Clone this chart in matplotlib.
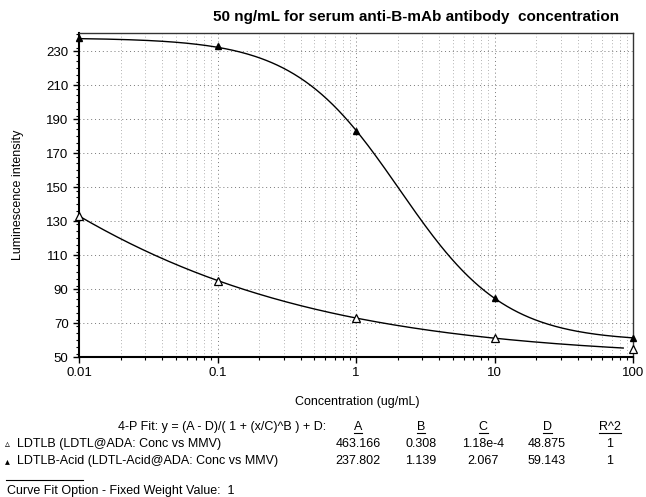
import numpy as np
import matplotlib
matplotlib.use("Agg")
import matplotlib.pyplot as plt
from matplotlib.ticker import FixedLocator, FuncFormatter, MultipleLocator, LogLocator
from matplotlib.lines import Line2D

plt.rcParams['font.family'] = ['Liberation Sans', 'DejaVu Sans']

# measured points (ug/mL vs luminescence)
conc = [0.01, 0.1, 1, 10, 100]
ldtlb = [133, 95, 73, 61, 55]
ldtlb_acid = [237.5, 233, 183, 85, 61]

# 4-P fit parameters: A, B, C, D, R^2
fit_ldtlb = [463.166, 0.308, 1.18e-4, 48.875, 1]
fit_acid = [237.802, 1.139, 2.067, 59.143, 1]
fit_text_ldtlb = ["463.166", "0.308", "1.18e-4", "48.875", "1"]
fit_text_acid = ["237.802", "1.139", "2.067", "59.143", "1"]
fit_range_ldtlb = [0.01, 85]
fit_range_acid = [0.01, 100]

col_names = ["A", "B", "C", "D", "R^2"]
y_ticks = [50, 70, 90, 110, 130, 150, 170, 190, 210, 230]


def four_p(x, p):
    a, b, c, d = p[:4]
    return (a - d) / (1 + (x / c) ** b) + d


W, H = 646, 497
fig = plt.figure(figsize=(W / 100, H / 100), dpi=100)
ax = fig.add_axes([79 / W, 1 - 357 / H, (633 - 79) / W, (357 - 32.5) / H])

ax.set_xscale('log')
ax.set_xlim(0.01, 100)
ax.set_ylim(50, 241)

xs = np.logspace(np.log10(fit_range_ldtlb[0]), np.log10(fit_range_ldtlb[1]), 300)
ax.plot(xs, four_p(xs, fit_ldtlb), color='black', lw=1.0, zorder=3)
xs = np.logspace(np.log10(fit_range_acid[0]), np.log10(fit_range_acid[1]), 300)
ax.plot(xs, four_p(xs, fit_acid), color='black', lw=1.0, zorder=3)

ax.plot(conc, ldtlb, ls='none', marker='^', ms=6, mfc='white', mec='black',
        mew=0.9, clip_on=False, zorder=4)
ax.plot(conc, ldtlb_acid, ls='none', marker='^', ms=4.5, mfc='black', mec='black',
        clip_on=False, zorder=4)

ax.yaxis.set_major_locator(FixedLocator(y_ticks))
ax.yaxis.set_minor_locator(MultipleLocator(4))
ax.xaxis.set_major_locator(LogLocator(base=10))
ax.xaxis.set_minor_locator(LogLocator(base=10, subs=np.arange(2, 10)))
ax.xaxis.set_major_formatter(FuncFormatter(lambda v, _: '%g' % v))
ax.xaxis.set_minor_formatter(FuncFormatter(lambda v, _: ''))

ax.tick_params(which='major', direction='out', length=4, width=1, labelsize=9.5,
               colors='black')
ax.tick_params(which='minor', direction='out', length=2, width=0.8)
ax.tick_params(axis='x', which='major', pad=3)

ax.grid(True, which='major', axis='both', color='#777777', ls=(0, (1, 3)), lw=0.7)
ax.grid(True, which='minor', axis='x', color='#999999', ls=(0, (1, 3)), lw=0.6)

for side in ['left', 'bottom']:
    ax.spines[side].set_linewidth(1.5)
for side in ['top', 'right']:
    ax.spines[side].set_linewidth(1.0)
    ax.spines[side].set_color('#333333')

fig.text(416 / W, 1 - 17 / H, "50 ng/mL for serum anti-B-mAb antibody  concentration",
         ha='center', va='center', fontsize=11, fontweight='bold')
fig.text(18 / W, 1 - 195 / H, "Luminescence intensity", rotation=90,
         ha='center', va='center', fontsize=9)
fig.text(357 / W, 1 - 402 / H, "Concentration (ug/mL)", ha='center', va='center',
         fontsize=9)

# fit summary table under the plot
fs = 9
fig.text(326 / W, 1 - 427 / H, "4-P Fit: y = (A - D)/( 1 + (x/C)^B ) + D:",
         ha='right', va='center', fontsize=fs)
col_x = [358, 421, 483, 547, 610]
headers = [fig.text(cx / W, 1 - 427 / H, name, ha='center', va='center', fontsize=fs)
           for cx, name in zip(col_x, col_names)]

rows = [("\u25b5", "LDTLB (LDTL@ADA: Conc vs MMV)", fit_text_ldtlb, 444),
        ("\u25b4", "LDTLB-Acid (LDTL-Acid@ADA: Conc vs MMV)", fit_text_acid, 461)]
for sym, name, vals, yy in rows:
    fig.text(5 / W, 1 - yy / H, sym, ha='left', va='center', fontsize=7,
             family=['DejaVu Sans'])
    fig.text(17 / W, 1 - yy / H, name, ha='left', va='center', fontsize=fs)
    for cx, v in zip(col_x, vals):
        fig.text(cx / W, 1 - yy / H, v, ha='center', va='center', fontsize=fs)

# underline the column headers
fig.canvas.draw()
renderer = fig.canvas.get_renderer()
for t in headers:
    bb = t.get_window_extent(renderer).transformed(fig.transFigure.inverted())
    fig.add_artist(Line2D([bb.x0, bb.x1], [bb.y0 + 0.5 / H, bb.y0 + 0.5 / H],
                          color='black', lw=0.8, transform=fig.transFigure))

fig.add_artist(Line2D([6 / W, 83 / W], [1 - 480 / H, 1 - 480 / H], color='black',
                      lw=0.8, transform=fig.transFigure))
fig.text(7 / W, 1 - 491 / H, "Curve Fit Option - Fixed Weight Value:  1",
         ha='left', va='center', fontsize=fs)

fig.savefig('out.png', dpi=100)
